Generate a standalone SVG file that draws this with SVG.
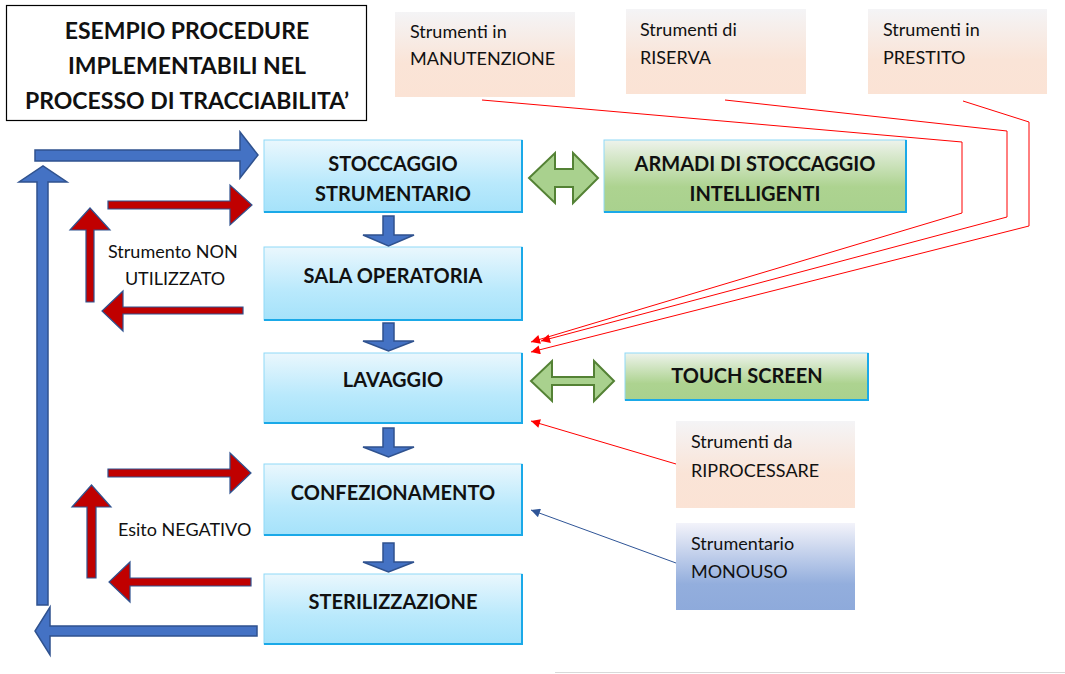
<svg xmlns="http://www.w3.org/2000/svg" width="1065" height="674" viewBox="0 0 1065 674">
<style>
  .t{font-family:Lato,"Liberation Sans",sans-serif;fill:#111}
  .b{font-weight:bold;font-size:20px;text-anchor:middle}
  .tt{font-size:23px}
  .s{font-size:18px}
  .bluebox{fill:url(#gBlue);stroke:#8fd9f7;stroke-width:1}
  .greenbox{fill:url(#gGreen);stroke:#8fd9f7;stroke-width:1}
  .edge{fill:none;stroke:#1aa9e8;stroke-width:2}
  .bigblue{fill:#4472c4;stroke:#2f528f;stroke-width:1.5}
  .red{fill:#c00000;stroke:#2f528f;stroke-width:1.2}
  .dg{fill:#a9d18e;stroke:#548235;stroke-width:2}
  .rl{fill:none;stroke:#ff0000;stroke-width:1}
  .bl{fill:none;stroke:#2f5597;stroke-width:1}
</style>
<defs>
  <linearGradient id="gBlue" x1="0" y1="0" x2="0" y2="1">
    <stop offset="0" stop-color="#eaf7fd"/>
    <stop offset="0.6" stop-color="#b9e9fc"/>
    <stop offset="1" stop-color="#a5e2fa"/>
  </linearGradient>
  <linearGradient id="gGreen" x1="0" y1="0" x2="0" y2="1">
    <stop offset="0" stop-color="#eef3ec"/>
    <stop offset="0.65" stop-color="#add390"/>
    <stop offset="1" stop-color="#a9d18e"/>
  </linearGradient>
  <linearGradient id="gPeach" x1="0" y1="0" x2="0" y2="1">
    <stop offset="0" stop-color="#f4f4f6"/>
    <stop offset="0.6" stop-color="#fae4d7"/>
    <stop offset="1" stop-color="#fbe3d5"/>
  </linearGradient>
  <linearGradient id="gMono" x1="0" y1="0" x2="0" y2="1">
    <stop offset="0" stop-color="#f3f3fa"/>
    <stop offset="0.7" stop-color="#93aedd"/>
    <stop offset="1" stop-color="#8eaadb"/>
  </linearGradient>
  <marker id="mr" viewBox="0 0 10 10" refX="10" refY="5" markerWidth="11" markerHeight="9" markerUnits="userSpaceOnUse" orient="auto">
    <path d="M0,0 L10,5 L0,10 z" fill="#ff0000"/>
  </marker>
  <marker id="mb" viewBox="0 0 10 10" refX="10" refY="5" markerWidth="11" markerHeight="9" markerUnits="userSpaceOnUse" orient="auto">
    <path d="M0,0 L10,5 L0,10 z" fill="#2f5597"/>
  </marker>
</defs>
<rect width="1065" height="674" fill="#ffffff"/>

<g id="title">
  <rect x="6.5" y="5.5" width="360" height="115" fill="#fff" stroke="#000" stroke-width="1.2"/>
  <text class="t b tt" x="187" y="39">ESEMPIO PROCEDURE</text>
  <text class="t b tt" x="187" y="74">IMPLEMENTABILI NEL</text>
  <text class="t b tt" x="187" y="109">PROCESSO DI TRACCIABILITA’</text>
</g>

<g id="manutenzione">
  <rect x="395" y="12" width="180" height="85" fill="url(#gPeach)"/>
  <text class="t s" x="410" y="38">Strumenti in</text>
  <text class="t s" x="410" y="65">MANUTENZIONE</text>
</g>
<g id="riserva">
  <rect x="626" y="9" width="180" height="85" fill="url(#gPeach)"/>
  <text class="t s" x="640" y="36">Strumenti di</text>
  <text class="t s" x="640" y="64">RISERVA</text>
</g>
<g id="prestito">
  <rect x="868" y="9" width="179" height="85" fill="url(#gPeach)"/>
  <text class="t s" x="883" y="36">Strumenti in</text>
  <text class="t s" x="883" y="64">PRESTITO</text>
</g>

<g id="stoccaggio">
  <rect class="bluebox" x="264" y="140" width="258" height="72"/>
  <path class="edge" d="M264,212 H522 V140"/>
  <text class="t b" x="393" y="171">STOCCAGGIO</text>
  <text class="t b" x="393" y="201">STRUMENTARIO</text>
</g>
<g id="armadi">
  <rect class="greenbox" x="604" y="140" width="302" height="72"/>
  <path class="edge" d="M604,212 H906 V140"/>
  <text class="t b" x="755" y="171">ARMADI DI STOCCAGGIO</text>
  <text class="t b" x="755" y="201">INTELLIGENTI</text>
</g>
<g id="sala">
  <rect class="bluebox" x="264" y="247" width="258" height="73"/>
  <path class="edge" d="M264,320 H522 V247"/>
  <text class="t b" x="393" y="283">SALA OPERATORIA</text>
</g>
<g id="lavaggio">
  <rect class="bluebox" x="264" y="353" width="258" height="70"/>
  <path class="edge" d="M264,423 H522 V353"/>
  <text class="t b" x="393" y="387">LAVAGGIO</text>
</g>
<g id="touch">
  <rect class="greenbox" x="625" y="353" width="243" height="47"/>
  <path class="edge" d="M625,400 H868 V353"/>
  <text class="t b" x="747" y="383">TOUCH SCREEN</text>
</g>
<g id="confezionamento">
  <rect class="bluebox" x="264" y="464" width="258" height="71"/>
  <path class="edge" d="M264,535 H522 V464"/>
  <text class="t b" x="393" y="500">CONFEZIONAMENTO</text>
</g>
<g id="sterilizzazione">
  <rect class="bluebox" x="264" y="574" width="258" height="70"/>
  <path class="edge" d="M264,644 H522 V574"/>
  <text class="t b" x="393" y="609">STERILIZZAZIONE</text>
</g>
<g id="riprocessare">
  <rect x="676" y="421" width="179" height="87" fill="url(#gPeach)"/>
  <text class="t s" x="691" y="448">Strumenti da</text>
  <text class="t s" x="691" y="477">RIPROCESSARE</text>
</g>
<g id="monouso">
  <rect x="676" y="523" width="179" height="87" fill="url(#gMono)"/>
  <text class="t s" x="691" y="550">Strumentario</text>
  <text class="t s" x="691" y="578">MONOUSO</text>
</g>

<g id="connectors">
  <polygon class="bigblue" points="383,216 394,216 394,235 414,235 388.5,246 363,235 383,235"/>
  <polygon class="bigblue" points="383,323 394,323 394,341 414,341 388.5,351 363,341 383,341"/>
  <polygon class="bigblue" points="383,428 394,428 394,447 414,447 388.5,457 363,447 383,447"/>
  <polygon class="bigblue" points="383,543 394,543 394,562 414,562 388.5,572 363,562 383,562"/>
  <polygon class="bigblue" points="35,150 240,150 240,132 258,155 240,178 240,161 35,161"/>
  <polygon class="bigblue" points="37,605 37,182 19,182 43,166 67,182 48,182 48,605"/>
  <polygon class="bigblue" points="257,626 50,626 50,607 35,631 50,655 50,636 257,636"/>
  <polygon class="red" points="108,201 230,201 230,185 252,205 230,225 230,209 108,209"/>
  <polygon class="red" points="86,302 86,230 70,230 90,208 110,230 94,230 94,302"/>
  <polygon class="red" points="243,307 123,307 123,291 102,311 123,331 123,314 243,314"/>
  <polygon class="red" points="108,469 230,469 230,453 251,473 230,493 230,477 108,477"/>
  <polygon class="red" points="87,578 87,507 72,507 91.5,485 111,507 96,507 96,578"/>
  <polygon class="red" points="251,578 130,578 130,562 109,582 130,602 130,586 251,586"/>
  <polygon class="dg" points="529,178 555,153 555,169 573,169 573,153 598,178 573,203 573,187 555,187 555,203"/>
  <polygon class="dg" points="531,381 552,361 552,377 594,377 594,361 614,381 594,401 594,385 552,385 552,401"/>
  <polyline class="rl" points="482,100 962,142 962,213 531,342" marker-end="url(#mr)"/>
  <polyline class="rl" points="725,100 1007,131 1007,217 541,341" marker-end="url(#mr)"/>
  <polyline class="rl" points="963,101 1029,122 1029,226 531,352" marker-end="url(#mr)"/>
  <line class="rl" x1="676" y1="464" x2="531" y2="421" marker-end="url(#mr)"/>
  <line class="bl" x1="676" y1="563" x2="531" y2="510" marker-end="url(#mb)"/>
</g>

<g id="labels">
  <text class="t s" x="108" y="258">Strumento NON</text>
  <text class="t s" x="175" y="285" text-anchor="middle">UTILIZZATO</text>
  <text class="t s" x="118" y="536">Esito NEGATIVO</text>
</g>
<line x1="555" y1="672.5" x2="1065" y2="672.5" stroke="#d9d9d9" stroke-width="1"/>
</svg>
